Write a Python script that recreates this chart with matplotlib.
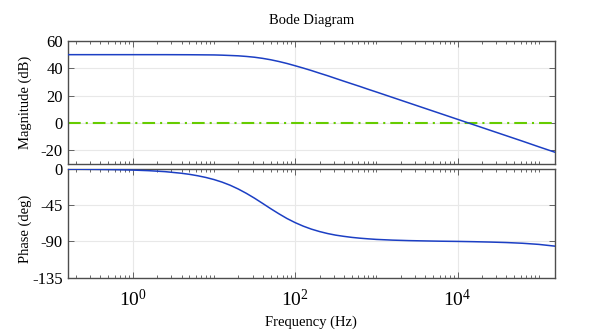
import matplotlib
matplotlib.use("Agg")
import matplotlib.pyplot as plt
from matplotlib.ticker import FixedLocator, LogLocator, NullFormatter

plt.rcParams['font.family'] = ['Liberation Serif', 'DejaVu Serif']
plt.rcParams['mathtext.fontset'] = 'custom'
plt.rcParams['mathtext.rm'] = 'Liberation Serif'
plt.rcParams['mathtext.it'] = 'Liberation Serif:italic'
plt.rcParams['axes.unicode_minus'] = False

# ---- data ----
freq_hz = [0.158, 0.251, 0.398, 0.631, 1.0, 1.585, 2.512, 3.981, 5.012, 6.31,
           7.943, 10.0, 12.59, 15.85, 19.95, 25.12, 31.62, 39.81, 50.12, 63.1,
           79.43, 100.0, 125.9, 158.5, 199.5, 251.2, 316.2, 398.1, 501.2, 631.0,
           794.3, 1000.0, 1585.0, 2512.0, 3981.0, 6310.0, 10000.0, 15850.0,
           25120.0, 39810.0, 63100.0, 100000.0, 158500.0]
magnitude_db = [50.0, 50.0, 50.0, 50.0, 50.0, 50.0, 50.0, 49.96, 49.94, 49.9,
                49.85, 49.8, 49.64, 49.4, 49.15, 48.7, 48.12, 47.3, 46.27, 45.0,
                43.55, 41.9, 40.19, 38.4, 36.47, 34.6, 32.59, 30.6, 28.64, 26.7,
                24.66, 22.7, 18.7, 14.7, 10.7, 6.7, 2.7, -1.3,
                -5.3, -9.3, -13.3, -17.4, -21.4]
phase_deg = [-0.2, -0.33, -0.53, -0.84, -1.33, -2.1, -3.3, -5.3, -6.65, -8.4,
             -10.5, -13.1, -16.3, -20.2, -24.9, -30.3, -36.3, -42.8, -49.4, -55.7,
             -61.6, -66.7, -71.1, -74.8, -77.8, -80.3, -82.3, -83.8, -85.1, -86.1,
             -86.9, -87.6, -88.5, -89.1, -89.5, -89.85, -90.1, -90.45,
             -90.9, -91.5, -92.4, -93.8, -96.0]
reference_db = 0

x_ticks = [1, 100, 10000]
x_tick_labels = ['$10^{0}$', '$10^{2}$', '$10^{4}$']
mag_ticks = [-20, 0, 20, 40, 60]
phase_ticks = [-135, -90, -45, 0]

title_text = 'Bode Diagram'
mag_label = 'Magnitude (dB)'
phase_label = 'Phase (deg)'
x_label = 'Frequency (Hz)'

# ---- styling ----
W, H = 599, 335
fig = plt.figure(figsize=(W / 100, H / 100), dpi=100)
L, R = 67.7, 555.0
ax1 = fig.add_axes([L / W, 1 - 164 / H, (R - L) / W, (164 - 41) / H])
ax2 = fig.add_axes([L / W, 1 - 277.5 / H, (R - L) / W, (277.5 - 169) / H])

blue = '#1c3fc4'
green = '#66cc00'
spine_c = '#4d4d4d'
grid_c = '#e8e8e8'

ax1.plot(freq_hz, magnitude_db, color=blue, lw=1.1, zorder=3)
ax1.axhline(reference_db, color=green, lw=1.5,
            linestyle=(0, (6.1, 2.4, 1.0, 2.4)), zorder=2)
ax2.plot(freq_hz, phase_deg, color=blue, lw=1.1, zorder=3)

xlim = (10 ** -0.8, 10 ** 5.2)
for ax in (ax1, ax2):
    ax.set_xscale('log')
    ax.set_xlim(*xlim)
    ax.xaxis.set_major_locator(FixedLocator(x_ticks))
    ax.xaxis.set_minor_locator(LogLocator(base=10, subs=range(1, 10), numticks=40))
    ax.xaxis.set_minor_formatter(NullFormatter())
    ax.grid(True, which='major', color=grid_c, lw=0.8, zorder=0)
    ax.tick_params(which='both', direction='in', top=True, right=True,
                   color=spine_c, width=0.6)
    ax.tick_params(which='major', length=4)
    ax.tick_params(which='minor', length=2.5)
    ax.tick_params(axis='y', labelsize=12, pad=3.5)
    for s in ax.spines.values():
        s.set_color(spine_c)
        s.set_linewidth(1.0)

ax1.set_ylim(-30, 60)
ax1.set_yticks(mag_ticks)
ax1.set_xticklabels([])
ax1.set_ylabel(mag_label, fontsize=10.5)
ax1.yaxis.set_label_coords(-0.074, 0.5)
ax1.set_title(title_text, fontsize=10.5, pad=12)

ax2.set_ylim(-135, 0)
ax2.set_yticks(phase_ticks)
ax2.set_xticklabels(x_tick_labels)
ax2.tick_params(axis='x', labelsize=14, pad=8)
ax2.set_ylabel(phase_label, fontsize=10.5)
ax2.yaxis.set_label_coords(-0.074, 0.45)
ax2.set_xlabel(x_label, fontsize=10.5, labelpad=4)

fig.savefig('out.png', dpi=100)
